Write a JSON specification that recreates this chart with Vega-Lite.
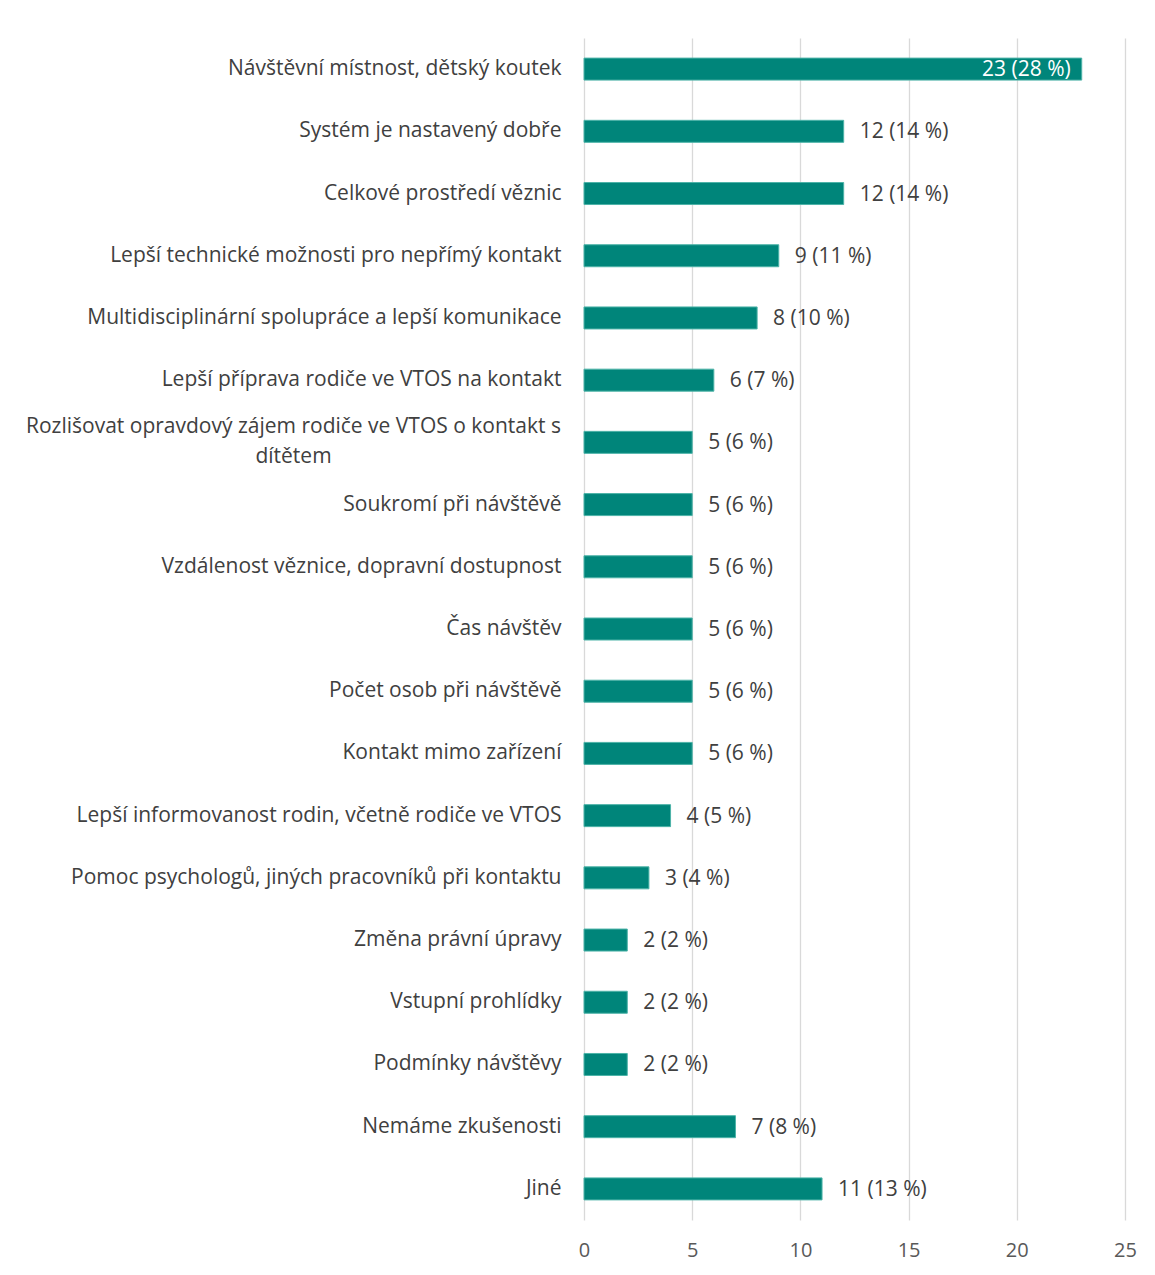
{
  "$schema": "https://vega.github.io/schema/vega-lite/v6.json",
  "autosize": "none",
  "width": 541,
  "height": 1182,
  "padding": {"left": 584, "top": 38, "right": 30, "bottom": 55},
  "background": "white",
  "config": {"view": {"stroke": null}, "font": "Open Sans"},
  "data": {"values": [
    {"kategorie": "Návštěvní místnost, dětský koutek", "pocet": 23, "popisek": "23 (28 %)"},
    {"kategorie": "Systém je nastavený dobře", "pocet": 12, "popisek": "12 (14 %)"},
    {"kategorie": "Celkové prostředí věznic", "pocet": 12, "popisek": "12 (14 %)"},
    {"kategorie": "Lepší technické možnosti pro nepřímý kontakt", "pocet": 9, "popisek": "9 (11 %)"},
    {"kategorie": "Multidisciplinární spolupráce a lepší komunikace", "pocet": 8, "popisek": "8 (10 %)"},
    {"kategorie": "Lepší příprava rodiče ve VTOS na kontakt", "pocet": 6, "popisek": "6 (7 %)"},
    {"kategorie": "Rozlišovat opravdový zájem rodiče ve VTOS o kontakt s dítětem", "pocet": 5, "popisek": "5 (6 %)"},
    {"kategorie": "Soukromí při návštěvě", "pocet": 5, "popisek": "5 (6 %)"},
    {"kategorie": "Vzdálenost věznice, dopravní dostupnost", "pocet": 5, "popisek": "5 (6 %)"},
    {"kategorie": "Čas návštěv", "pocet": 5, "popisek": "5 (6 %)"},
    {"kategorie": "Počet osob při návštěvě", "pocet": 5, "popisek": "5 (6 %)"},
    {"kategorie": "Kontakt mimo zařízení", "pocet": 5, "popisek": "5 (6 %)"},
    {"kategorie": "Lepší informovanost rodin, včetně rodiče ve VTOS", "pocet": 4, "popisek": "4 (5 %)"},
    {"kategorie": "Pomoc psychologů, jiných pracovníků při kontaktu", "pocet": 3, "popisek": "3 (4 %)"},
    {"kategorie": "Změna právní úpravy", "pocet": 2, "popisek": "2 (2 %)"},
    {"kategorie": "Vstupní prohlídky", "pocet": 2, "popisek": "2 (2 %)"},
    {"kategorie": "Podmínky návštěvy", "pocet": 2, "popisek": "2 (2 %)"},
    {"kategorie": "Nemáme zkušenosti", "pocet": 7, "popisek": "7 (8 %)"},
    {"kategorie": "Jiné", "pocet": 11, "popisek": "11 (13 %)"}
  ]},
  "encoding": {
    "y": {
      "field": "kategorie", "type": "nominal", "sort": null,
      "scale": {"paddingInner": 0, "paddingOuter": 0},
      "axis": {
        "title": null, "domain": false, "ticks": false,
        "labelFontSize": 21, "labelColor": "#404040",
        "labelLimit": 700, "labelLineHeight": 30,
        "labelExpr": "datum.value == 'Rozlišovat opravdový zájem rodiče ve VTOS o kontakt s dítětem' ? ['Rozlišovat opravdový zájem rodiče ve VTOS o kontakt s', 'dítětem'] : datum.value",
        "labelAlign": {"condition": {"test": "datum.value == 'Rozlišovat opravdový zájem rodiče ve VTOS o kontakt s dítětem'", "value": "center"}, "value": "right"},
        "labelPadding": {"condition": {"test": "datum.value == 'Rozlišovat opravdový zájem rodiče ve VTOS o kontakt s dítětem'", "value": 291}, "value": 23},
        "labelOffset": {"condition": {"test": "datum.value == 'Rozlišovat opravdový zájem rodiče ve VTOS o kontakt s dítětem'", "value": -15}, "value": 0}
      }
    },
    "x": {
      "field": "pocet", "type": "quantitative",
      "scale": {"domain": [0, 25], "nice": false},
      "axis": {
        "title": null, "domain": false, "ticks": false, "labelFlush": false,
        "values": [0, 5, 10, 15, 20, 25],
        "labelPadding": 20, "labelFontSize": 20, "labelColor": "#595959",
        "gridColor": "#d9d9d9", "gridWidth": 1.3
      }
    }
  },
  "layer": [
    {"mark": {"type": "bar", "size": 22, "color": "#00857A", "stroke": "#4db3a8", "strokeWidth": 1}},
    {
      "transform": [{"filter": "datum.pocet <= 20"}],
      "mark": {"type": "text", "fontSize": 21, "baseline": "middle", "align": "left", "dx": 16, "dy": 1, "color": "#404040"},
      "encoding": {"text": {"field": "popisek"}}
    },
    {
      "transform": [{"filter": "datum.pocet > 20"}],
      "mark": {"type": "text", "fontSize": 21, "baseline": "middle", "align": "right", "dx": -11, "dy": 1, "color": "white"},
      "encoding": {"text": {"field": "popisek"}}
    }
  ]
}
